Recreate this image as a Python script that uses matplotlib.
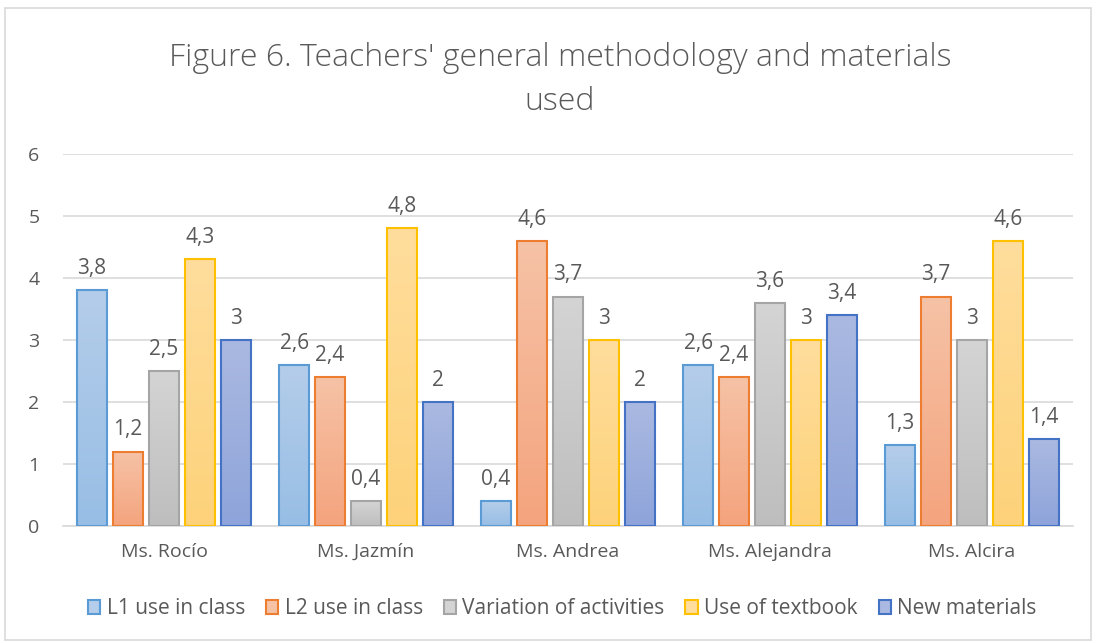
import matplotlib.pyplot as plt
import numpy as np
from matplotlib.colors import LinearSegmentedColormap
from matplotlib.patches import Rectangle, Patch

plt.rcParams['font.family'] = ['Open Sans', 'DejaVu Sans']

teachers = ["Ms. Rocío", "Ms. Jazmín", "Ms. Andrea", "Ms. Alejandra", "Ms. Alcira"]
series = ["L1 use in class", "L2 use in class", "Variation of activities",
          "Use of textbook", "New materials"]
l1_use = [3.8, 2.6, 0.4, 2.6, 1.3]
l2_use = [1.2, 2.4, 4.6, 2.4, 3.7]
variation = [2.5, 0.4, 3.7, 3.6, 3.0]
textbook = [4.3, 4.8, 3.0, 3.0, 4.6]
new_materials = [3.0, 2.0, 2.0, 3.4, 1.4]
values = [l1_use, l2_use, variation, textbook, new_materials]

edge_colors = ["#5B9BD5", "#ED7D31", "#A5A5A5", "#FFC000", "#4472C4"]
top_colors = ["#B4CDEA", "#F6C2A6", "#D4D4D4", "#FFDD9C", "#AAB9E1"]
bottom_colors = ["#98BEE5", "#F4A47E", "#BEBEBE", "#FDD27A", "#8EA4DA"]

fig = plt.figure(figsize=(10.96, 6.43), dpi=100)
ax = fig.add_axes([0.0575, 0.182, 0.9215, 0.5785])

# chart border
fig.patches.append(Rectangle((0.005, 0.004), 0.99, 0.984, transform=fig.transFigure,
                             fill=False, edgecolor="#D9D9D9", linewidth=1.2))

x = np.arange(len(teachers))
pitch = 0.178
width = 0.149
grad = np.linspace(0, 1, 100).reshape(-1, 1)

for i, (name, vals) in enumerate(zip(series, values)):
    pos = x + (i - 2) * pitch
    bars = ax.bar(pos, vals, width, facecolor="none", edgecolor=edge_colors[i],
                  linewidth=1.5, label=name, zorder=3)
    cmap = LinearSegmentedColormap.from_list("g%d" % i, [bottom_colors[i], top_colors[i]])
    for b in bars:
        bx, by = b.get_x(), b.get_y()
        im = ax.imshow(grad, cmap=cmap, origin="lower", aspect="auto",
                       extent=[bx, bx + b.get_width(), by, by + b.get_height()], zorder=2)
        im.set_clip_path(b)
    labels = [("%g" % v).replace(".", ",") for v in vals]
    ax.bar_label(bars, labels=labels, padding=8, color="#595959", fontsize=15)

ax.set_xlim(-0.5, len(teachers) - 0.5)
ax.set_ylim(0, 6)
ax.set_yticks(range(0, 7))
ax.set_xticks(x)
ax.set_xticklabels(teachers)
ax.tick_params(axis="both", length=0, colors="#595959", labelsize=14)
ax.tick_params(axis="x", pad=12)
ax.tick_params(axis="y", pad=17)
ax.grid(axis="y", color="#D9D9D9", linewidth=1.2, zorder=0)
ax.set_axisbelow(True)
for s in ["top", "right", "left"]:
    ax.spines[s].set_visible(False)
ax.spines["bottom"].set_color("#D9D9D9")
ax.spines["bottom"].set_linewidth(1.2)

fig.text(0.511, 0.876, "Figure 6. Teachers' general methodology and materials\nused",
         ha="center", va="center", fontsize=23, color="#595959",
         fontweight="light", linespacing=1.5)

leg_handles = [Patch(facecolor=top_colors[i], edgecolor=edge_colors[i], linewidth=1.5)
               for i in range(len(series))]
fig.legend(leg_handles, series, loc="center", bbox_to_anchor=(0.513, 0.053), ncol=5,
           frameon=False, fontsize=15, labelcolor="#595959", handlelength=0.6,
           handleheight=0.6, handletextpad=0.3, columnspacing=1.0)

fig.savefig("out.png", dpi=100)
